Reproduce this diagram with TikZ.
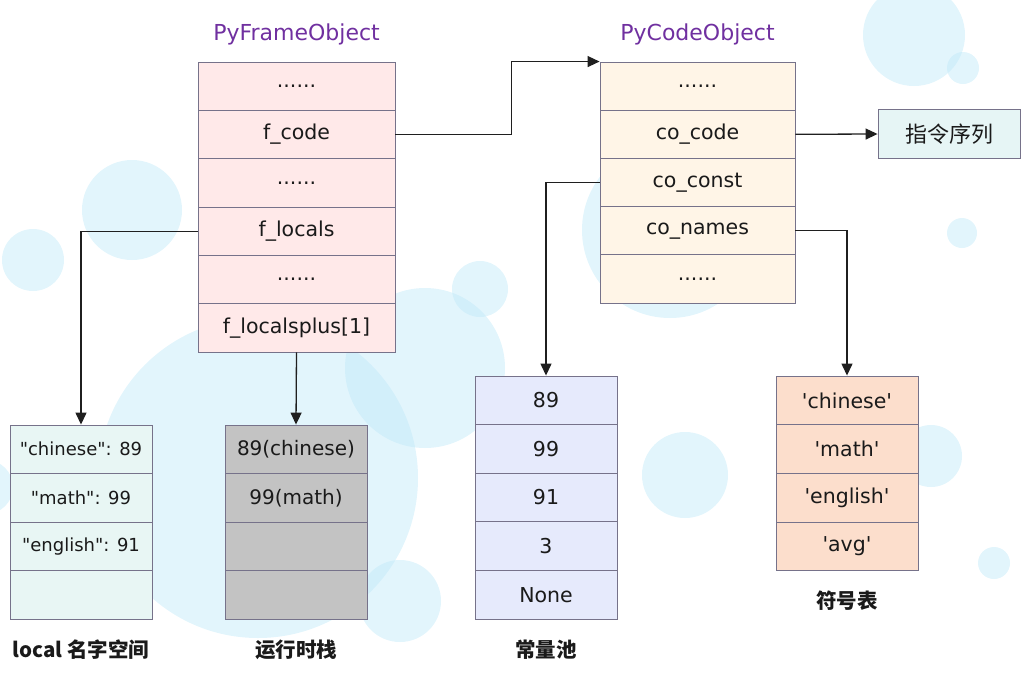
\documentclass[tikz,border=0pt]{standalone}
\usepackage{fontspec}
\setmainfont{DejaVu Sans}
\newfontfamily\cjkfont{Noto Sans CJK SC}
\usetikzlibrary{arrows.meta}
\definecolor{bubble}{RGB}{190,232,248}
\definecolor{bordc}{RGB}{118,114,138}
\definecolor{titlec}{RGB}{112,48,160}
\definecolor{txtc}{RGB}{26,26,26}
\definecolor{framefill}{RGB}{255,233,233}
\definecolor{codefill}{RGB}{255,245,231}
\definecolor{instrfill}{RGB}{230,245,245}
\definecolor{localfill}{RGB}{232,246,244}
\definecolor{stackfill}{RGB}{195,195,195}
\definecolor{constfill}{RGB}{230,234,252}
\definecolor{symfill}{RGB}{252,222,204}
\newcommand\rowfont{\fontsize{20.5}{24}\selectfont}
\newcommand\dotrow{......}
\newcommand\dq{\textquotedbl}
\newcommand\sq{\textquotesingle}
\tikzset{
  bub/.style={fill=bubble, fill opacity=0.45, draw=none},
  cell/.style={draw=bordc, line width=0.9pt, inner sep=0pt, text=txtc, font=\rowfont},
  framerow/.style={cell, fill=framefill, minimum width=197, minimum height=48.33},
  coderow/.style={cell, fill=codefill, minimum width=195, minimum height=48.2},
  localrow/.style={cell, fill=localfill, minimum width=142, minimum height=48.5, font=\fontsize{18}{22}\selectfont},
  stackrow/.style={cell, fill=stackfill, minimum width=142, minimum height=48.5, font=\fontsize{20}{24}\selectfont},
  constrow/.style={cell, fill=constfill, minimum width=142, minimum height=48.6},
  symrow/.style={cell, fill=symfill, minimum width=142, minimum height=48.7},
  instrbox/.style={cell, fill=instrfill, minimum width=142, minimum height=49, font=\cjkfont\fontsize{22}{26}\selectfont},
  titletext/.style={text=titlec, font=\fontsize{22}{26}\selectfont, inner sep=0pt},
  caption/.style={text=txtc, font=\cjkfont\bfseries\fontsize{20.5}{24}\selectfont, inner sep=0pt},
  conn/.style={draw=black!88, line width=1.3pt, -{Triangle[length=12pt,width=11pt]}}
}
\begin{document}
\begin{tikzpicture}[x=1pt,y=-1pt]
\useasboundingbox (0,0) rectangle (1030,686);
% background bubbles
\begin{scope}
\clip (0,0) rectangle (1030,686);
\fill[bub] (914,35) circle (51);
\fill[bub] (963,68) circle (16);
\fill[bub] (132,210) circle (50);
\fill[bub] (33,260) circle (31);
\fill[bub] (-14,487) circle (27);
\fill[bub] (258,478) circle (160);
\fill[bub] (425,368) circle (80);
\fill[bub] (480,289) circle (28);
\fill[bub] (400,601) circle (41);
\fill[bub] (670,230) circle (88);
\fill[bub] (685,475) circle (43);
\fill[bub] (962,233) circle (15);
\fill[bub] (931,456) circle (31);
\fill[bub] (994,563) circle (16);
\end{scope}
% titles
\node[titletext] (tframe) at (296.5,34) {PyFrameObject};
\node[titletext] (tcode) at (697.5,34) {PyCodeObject};
% PyFrameObject
\foreach \t [count=\i from 0] in {{\dotrow}, {f\_code}, {\dotrow}, {f\_locals}, {\dotrow}, {f\_localsplus[1]}}
  \node[framerow] (f\i) at (296.5,{62+48.33*(\i+0.5)}) {\t};
% PyCodeObject
\foreach \t [count=\i from 0] in {{\dotrow}, {co\_code}, {co\_const}, {co\_names}, {\dotrow}}
  \node[coderow] (c\i) at (697.5,{62+48.2*(\i+0.5)}) {\t};
% instruction sequence
\node[instrbox] (instr) at (949,134) {指令序列};
% local namespace
\foreach \t [count=\i from 0] in {{\dq chinese\dq: 89}, {\dq math\dq: 99}, {\dq english\dq: 91}, {}}
  \node[localrow] (l\i) at (81,{425+48.5*(\i+0.5)}) {\t};
% runtime stack
\foreach \t [count=\i from 0] in {{89(chinese)}, {99(math)}, {}, {}}
  \node[stackrow] (r\i) at (296,{425+48.5*(\i+0.5)}) {\t};
% constants
\foreach \t [count=\i from 0] in {89, 99, 91, 3, None}
  \node[constrow] (k\i) at (546,{376+48.6*(\i+0.5)}) {\t};
% symbols
\foreach \t [count=\i from 0] in {{\sq chinese\sq}, {\sq math\sq}, {\sq english\sq}, {\sq avg\sq}}
  \node[symrow] (s\i) at (847,{376+48.7*(\i+0.5)}) {\t};
% captions
\node[caption] (caplocal) at (81,650) {local 名字空间};
\node[caption] (capstack) at (296,650) {运行时栈};
\node[caption] (capconst) at (546,650) {常量池};
\node[caption] (capsym) at (847,601) {符号表};
% connectors
\draw[conn] (f1.east) -- ++(116,0) |- (c0.north west);
\draw[conn] (c1.east) -- (instr.west);
\draw[conn] (c2.west) -| (k0.north);
\draw[conn] (c3.east) -| (s0.north);
\draw[conn] (f3.west) -| (l0.north);
\draw[conn] (f5.south) -- (r0.north);
\end{tikzpicture}
\end{document}
